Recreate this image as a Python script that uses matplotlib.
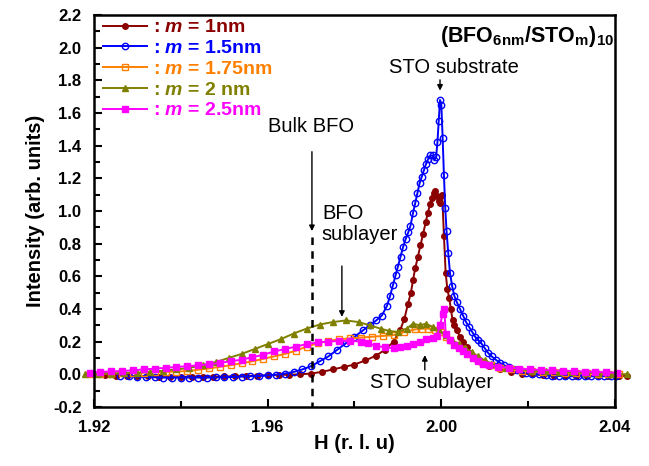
import matplotlib
matplotlib.use("Agg")
import matplotlib.pyplot as plt

plt.rcParams['font.family'] = ['Liberation Sans', 'DejaVu Sans']
plt.rcParams['mathtext.fontset'] = 'custom'
plt.rcParams['mathtext.rm'] = 'Liberation Sans:bold'
plt.rcParams['mathtext.bf'] = 'Liberation Sans:bold'
plt.rcParams['mathtext.it'] = 'Liberation Sans:bold:italic'

# m = 1 nm
h1 = [1.920, 1.9225, 1.925, 1.9275, 1.930, 1.9325, 1.935, 1.9375, 1.940, 1.9425, 1.945, 1.9475,
      1.950, 1.9525, 1.955, 1.9575, 1.960, 1.9625, 1.965, 1.9675, 1.970, 1.9725, 1.975, 1.9775,
      1.980, 1.9825, 1.985, 1.987, 1.989, 1.9905, 1.9915, 1.9923, 1.993, 1.9935, 1.994, 1.9946,
      1.9952, 1.9958, 1.9964, 1.9969, 1.9974, 1.9978, 1.9982, 1.9986, 1.999, 1.9994, 1.9998,
      2.0002, 2.0006, 2.001, 2.0014, 2.0018, 2.0022, 2.0026, 2.003, 2.0036, 2.0043, 2.005,
      2.0059, 2.0066, 2.0073, 2.0083, 2.0094, 2.011, 2.0135, 2.016, 2.0185, 2.021, 2.0235,
      2.026, 2.0285, 2.031, 2.0335, 2.036, 2.0385, 2.041, 2.0428]
i1 = [0.0, -0.005, -0.008, -0.01, -0.012, -0.013, -0.015, -0.015, -0.015, -0.015, -0.015, -0.014,
      -0.013, -0.012, -0.01, -0.008, -0.006, -0.004, -0.002, 0.0, 0.005, 0.015, 0.03, 0.045,
      0.06, 0.085, 0.115, 0.15, 0.2, 0.27, 0.34, 0.43, 0.5, 0.58, 0.65, 0.72,
      0.79, 0.86, 0.93, 0.99, 1.04, 1.08, 1.11, 1.12, 1.09, 1.06, 1.05,
      1.10, 0.85, 0.62, 0.52, 0.47, 0.40, 0.33, 0.30, 0.27, 0.23, 0.20,
      0.17, 0.13, 0.10, 0.085, 0.07, 0.05, 0.03, 0.015, 0.005, 0.0, -0.005,
      -0.008, -0.01, -0.01, -0.01, -0.01, -0.01, -0.01, -0.01]

# m = 1.5 nm
h2 = [1.926, 1.928, 1.930, 1.932, 1.934, 1.936, 1.938, 1.940, 1.942, 1.944, 1.946, 1.948,
      1.950, 1.952, 1.954, 1.956, 1.958, 1.960, 1.962, 1.964, 1.966, 1.968, 1.970, 1.972,
      1.974, 1.976, 1.978, 1.980, 1.982, 1.9835, 1.985, 1.9863, 1.9875, 1.9882, 1.9889, 1.9895,
      1.990, 1.9906, 1.9912, 1.9918, 1.9924, 1.9929, 1.9935, 1.994, 1.9945, 1.995, 1.9955,
      1.996, 1.9965, 1.997, 1.9975, 1.998, 1.9984, 1.9988, 1.9991, 1.9994, 1.9997, 2.0000,
      2.0003, 2.0006, 2.0009, 2.0012, 2.0016, 2.002, 2.0025, 2.003, 2.0036, 2.0043, 2.005,
      2.0057, 2.0064, 2.0071, 2.0078, 2.0085, 2.0092, 2.010, 2.0108, 2.0116, 2.0125, 2.0135,
      2.0145, 2.0155, 2.0165, 2.0175, 2.0185, 2.0195, 2.021, 2.0225, 2.024, 2.0255, 2.027,
      2.0285, 2.030, 2.0315, 2.033, 2.0345, 2.036, 2.0375, 2.039, 2.0403]
i2 = [-0.01, -0.012, -0.015, -0.017, -0.018, -0.02, -0.02, -0.02, -0.02, -0.02, -0.02, -0.019,
      -0.018, -0.016, -0.014, -0.012, -0.01, -0.006, -0.002, 0.005, 0.015, 0.03, 0.05, 0.08,
      0.11, 0.15, 0.19, 0.23, 0.27, 0.30, 0.33, 0.36, 0.42, 0.48, 0.55, 0.61,
      0.66, 0.72, 0.78, 0.83, 0.87, 0.91, 0.99, 1.05, 1.11, 1.17, 1.21,
      1.25, 1.29, 1.32, 1.34, 1.34, 1.31, 1.33, 1.42, 1.55, 1.68, 1.65,
      1.45, 1.22, 1.02, 0.88, 0.74, 0.62, 0.54, 0.48, 0.44, 0.40, 0.36,
      0.32, 0.29, 0.26, 0.23, 0.21, 0.19, 0.16, 0.13, 0.11, 0.09, 0.07,
      0.055, 0.045, 0.035, 0.025, 0.018, 0.01, 0.005, 0.0, -0.005, -0.008, -0.01,
      -0.01, -0.012, -0.012, -0.012, -0.012, -0.012, -0.012, -0.012, -0.012]

# m = 1.75 nm
h3 = [1.919, 1.9215, 1.924, 1.9265, 1.929, 1.9315, 1.934, 1.9365, 1.939, 1.9415, 1.944, 1.9465,
      1.949, 1.9515, 1.954, 1.9565, 1.959, 1.9615, 1.964, 1.9665, 1.969, 1.9715, 1.974, 1.9765,
      1.979, 1.9815, 1.984, 1.9865, 1.989, 1.9915, 1.994, 1.9955, 1.997, 1.9985, 2.000, 2.001,
      2.002, 2.0035, 2.005, 2.0065, 2.008, 2.0096, 2.0115, 2.0135, 2.016, 2.0185, 2.021, 2.0235,
      2.026, 2.0285, 2.031, 2.0335, 2.036, 2.0385, 2.041]
i3 = [0.0, 0.003, 0.005, 0.007, 0.009, 0.011, 0.013, 0.015, 0.017, 0.02, 0.028, 0.036,
      0.046, 0.056, 0.068, 0.08, 0.095, 0.11, 0.125, 0.145, 0.17, 0.19, 0.205, 0.215,
      0.22, 0.225, 0.23, 0.235, 0.24, 0.26, 0.275, 0.28, 0.28, 0.27, 0.26, 0.23,
      0.21, 0.18, 0.155, 0.125, 0.10, 0.07, 0.055, 0.04, 0.03, 0.022, 0.018, 0.015,
      0.012, 0.01, 0.008, 0.006, 0.004, 0.002, 0.0]

# m = 2 nm
h4 = [1.918, 1.921, 1.924, 1.927, 1.930, 1.933, 1.936, 1.939, 1.942, 1.945, 1.948, 1.951,
      1.954, 1.957, 1.960, 1.963, 1.966, 1.969, 1.972, 1.975, 1.978, 1.981, 1.9835, 1.986,
      1.988, 1.990, 1.992, 1.9935, 1.995, 1.9965, 1.998, 1.9995, 2.001, 2.0025, 2.004, 2.0055,
      2.007, 2.0085, 2.010, 2.0115, 2.013, 2.015, 2.018, 2.021, 2.024, 2.027, 2.030, 2.033,
      2.036, 2.039, 2.0428]
i4 = [0.0, 0.003, 0.005, 0.008, 0.01, 0.015, 0.022, 0.03, 0.04, 0.055, 0.075, 0.10,
      0.125, 0.155, 0.185, 0.215, 0.25, 0.28, 0.305, 0.32, 0.33, 0.32, 0.30, 0.28,
      0.265, 0.26, 0.28, 0.31, 0.30, 0.31, 0.29, 0.27, 0.24, 0.21, 0.185, 0.16,
      0.135, 0.11, 0.085, 0.065, 0.05, 0.04, 0.03, 0.022, 0.018, 0.015, 0.012, 0.01,
      0.007, 0.004, 0.0]

# m = 2.5 nm
h5 = [1.919, 1.9215, 1.924, 1.9265, 1.929, 1.9315, 1.934, 1.9365, 1.939, 1.9415, 1.944, 1.9465,
      1.949, 1.9515, 1.954, 1.9565, 1.959, 1.9615, 1.964, 1.9665, 1.969, 1.9715, 1.974, 1.9765,
      1.979, 1.9815, 1.983, 1.985, 1.987, 1.989, 1.9905, 1.992, 1.9935, 1.995, 1.9965, 1.998,
      1.999, 1.9997, 2.0003, 2.0007, 2.001, 2.002, 2.003, 2.004, 2.005, 2.006, 2.0073, 2.0085,
      2.0096, 2.011, 2.013, 2.0155, 2.018, 2.0205, 2.023, 2.0255, 2.028, 2.0305, 2.033, 2.0355,
      2.038, 2.0405]
i5 = [0.01, 0.015, 0.018, 0.02, 0.025, 0.03, 0.035, 0.04, 0.045, 0.05, 0.055, 0.062,
      0.07, 0.08, 0.09, 0.105, 0.12, 0.14, 0.155, 0.17, 0.185, 0.195, 0.20, 0.205,
      0.205, 0.20, 0.19, 0.175, 0.165, 0.16, 0.165, 0.175, 0.185, 0.20, 0.215, 0.225,
      0.235, 0.30, 0.37, 0.40, 0.25, 0.21, 0.18, 0.16, 0.14, 0.125, 0.10, 0.08,
      0.065, 0.055, 0.045, 0.04, 0.035, 0.03, 0.027, 0.024, 0.022, 0.02, 0.017, 0.015,
      0.012, 0.01]

labels = [': $m$ = 1nm', ': $m$ = 1.5nm', ': $m$ = 1.75nm', ': $m$ = 2 nm', ': $m$ = 2.5nm']
colors = ['#8B0000', '#0000FF', '#FF8000', '#808000', '#FF00FF']

xticks = [1.92, 1.96, 2.00, 2.04]
yticks = [-0.2, 0.0, 0.2, 0.4, 0.6, 0.8, 1.0, 1.2, 1.4, 1.6, 1.8, 2.0, 2.2]

fig = plt.figure(figsize=(6.49, 4.66), dpi=100)
ax = fig.add_axes([0.1448, 0.1266, 0.8028, 0.8412])

series = [(h1, i1), (h2, i2), (h3, i3), (h4, i4), (h5, i5)]
styles = [dict(marker='o', ms=4.0, mfc=colors[0]),
          dict(marker='o', ms=4.6, mfc='none', mew=1.0),
          dict(marker='s', ms=4.2, mfc='none', mew=1.0),
          dict(marker='^', ms=4.6, mfc=colors[3]),
          dict(marker='s', ms=4.2, mfc=colors[4])]
handles = []
for (h, v), c, st, lab in zip(series, colors, styles, labels):
    ln, = ax.plot(h, v, color=c, mec=c, lw=1.4, label=lab, clip_on=False, **st)
    handles.append(ln)

ax.set_xlim(1.92, 2.04)
ax.set_ylim(-0.2, 2.2)
ax.set_xticks(xticks)
ax.set_xticklabels(['%.2f' % t for t in xticks])
ax.set_yticks(yticks)
ax.set_yticklabels(['%.1f' % t for t in yticks])
ax.set_xticks([1.94, 1.98, 2.02], minor=True)
ax.set_yticks([-0.1 + 0.2 * k for k in range(12)], minor=True)
ax.tick_params(which='both', direction='in', top=False, right=False, width=1.5)
ax.tick_params(which='major', length=6, labelsize=12, pad=9)
ax.tick_params(which='minor', length=4)
for t in ax.get_xticklabels() + ax.get_yticklabels():
    t.set_fontweight('bold')
for s in ax.spines.values():
    s.set_linewidth(1.8)

ax.set_xlabel('H (r. l. u)', fontsize=14.5, fontweight='bold', labelpad=-0.5)
ax.set_ylabel('Intensity (arb. units)', fontsize=14.5, fontweight='bold', labelpad=6)

leg = ax.legend(handles=handles, loc='upper left', bbox_to_anchor=(-0.0096, 1.025), frameon=False,
                handlelength=2.3, handletextpad=0.3, labelspacing=0.16,
                borderaxespad=0.3, prop={'weight': 'bold', 'size': 14})
for t, c in zip(leg.get_texts(), colors):
    t.set_color(c)

ax.text(0.664, 0.944, r'$\mathbf{(BFO_{6nm}/STO_{m})_{10}}$', transform=ax.transAxes,
        fontsize=15.5, fontweight='bold', ha='left', va='center')
ax.text(2.0029, 1.88, 'STO substrate', fontsize=14.5, ha='center', va='center')
ax.annotate('', xy=(1.9997, 1.72), xytext=(1.9997, 1.82),
            arrowprops=dict(arrowstyle='-|>', color='black', lw=1.0, mutation_scale=8))
ax.text(1.9699, 1.52, 'Bulk BFO', fontsize=14.5, ha='center', va='center')
ax.annotate('', xy=(1.9702, 0.86), xytext=(1.9702, 1.38),
            arrowprops=dict(arrowstyle='-|>', color='black', lw=1.0, mutation_scale=8))
ax.plot([1.9702, 1.9702], [0.84, -0.2], color='black', lw=1.8, ls=(0, (3, 2.5)))
ax.text(1.9725, 0.92, 'BFO\nsublayer', fontsize=14.5, ha='left', va='center', linespacing=1.15)
ax.annotate('', xy=(1.9771, 0.335), xytext=(1.9771, 0.68),
            arrowprops=dict(arrowstyle='-|>', color='black', lw=1.0, mutation_scale=8))
ax.text(1.9978, -0.05, 'STO sublayer', fontsize=14.5, ha='center', va='center')
ax.annotate('', xy=(1.9962, 0.135), xytext=(1.9962, 0.01),
            arrowprops=dict(arrowstyle='-|>', color='black', lw=1.0, mutation_scale=8))

fig.savefig('out.png', dpi=100)
